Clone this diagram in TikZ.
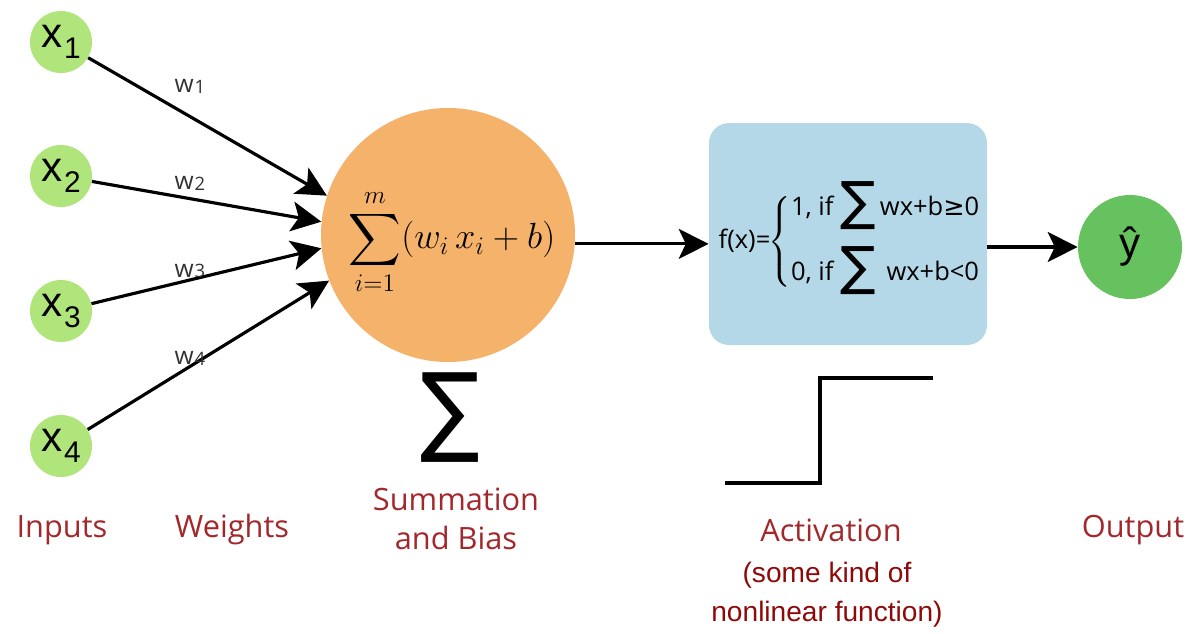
\documentclass[tikz,border=0pt]{standalone}
\usepackage{fontspec}
\usepackage{amsmath}
\setmainfont{Open Sans}
\newfontfamily\arialf{Liberation Sans}
\newfontfamily\symf{DejaVu Sans}
\usetikzlibrary{arrows.meta}
\definecolor{ingreen}{HTML}{B0E57C}
\definecolor{outgreen}{HTML}{66C25E}
\definecolor{sumorange}{HTML}{F5B26B}
\definecolor{actblue}{HTML}{B4D8E7}
\definecolor{labred}{HTML}{A2282B}
\definecolor{notered}{HTML}{8E0A0A}
\newlength{\unitpx}
\setlength{\unitpx}{0.02cm}
\tikzset{
  inputnode/.style={circle, fill=ingreen, minimum size=62\unitpx, inner sep=0pt,
    font=\arialf\fontsize{24}{24}\selectfont},
  wire/.style={line width=1.8pt, -{Stealth[length=17pt,width=17pt,inset=4pt]}},
  weightlbl/.style={font=\fontsize{14}{16}\selectfont, text=black!80},
  caption/.style={font=\fontsize{17.5}{22}\selectfont, text=labred, align=center},
  note/.style={font=\arialf\fontsize{16}{22}\selectfont, text=notered, align=center},
}
\newcommand{\wsub}[1]{w\kern0.5pt\raisebox{-0.5pt}{\fontsize{10.5}{11}\selectfont #1}}
\newcommand{\xsub}[1]{x\kern1pt\raisebox{-6pt}{\fontsize{17}{17}\selectfont #1}}
\newcommand{\boxsig}{\smash{\raisebox{-0.16em}{\symf\fontsize{30}{30}\selectfont ∑}}}
\begin{document}
\begin{tikzpicture}[x=0.02cm, y=-0.02cm]
  \useasboundingbox (0,0) rectangle (1194,633);

  % inputs
  \node[inputnode] (x1) at (61,42)  {\xsub{1}};
  \node[inputnode] (x2) at (61,176) {\xsub{2}};
  \node[inputnode] (x3) at (61,311) {\xsub{3}};
  \node[inputnode] (x4) at (61,446) {\xsub{4}};

  % summation neuron
  \node[circle, fill=sumorange, minimum size=254\unitpx, inner sep=0pt] (sum) at (448,235) {};
  \node (sumtext) at (452,242) {\fontsize{20}{24}\selectfont
    $\displaystyle\sum_{i=1}^{m}(w_i\,x_i+b)$};

  % weighted connections
  \draw[wire] (x1) -- (sum.162);
  \draw[wire] (x2) -- (sum.174);
  \draw[wire] (x3) -- (sum.186);
  \draw[wire] (x4) -- (sum.201);
  \node[weightlbl] (w1) at (190,86)  {\wsub{1}};
  \node[weightlbl] (w2) at (190,183) {\wsub{2}};
  \node[weightlbl] (w3) at (190,271) {\wsub{3}};
  \node[weightlbl] (w4) at (190,358) {\wsub{4}};

  % activation block
  \node[fill=actblue, rounded corners=20\unitpx, minimum width=278\unitpx,
        minimum height=222\unitpx, inner sep=0pt] (act) at (848,234) {};
  \node (acttext) at (850,242) {\fontsize{14.5}{17}\selectfont
    f(x)=\kern-1pt$\left\{\begin{array}{@{}l@{}}
      \text{1, if \boxsig\,wx+b{\symf ≥}0}\\[20pt]
      \text{0, if \boxsig\ \,wx+b<0}
    \end{array}\right.$};

  % output
  \node[circle, fill=outgreen, minimum size=104\unitpx, inner sep=0pt,
        font=\arialf\fontsize{24}{24}\selectfont] (out) at (1130,247) {\^y};

  \draw[wire] (sum.-4) -- (sum.-4 -| act.west);
  \draw[wire] (out.west -| act.east) -- (out.west);

  % symbols below
  \node[xscale=0.9] (sigma) at (450,418) {\symf\fontsize{56}{56}\selectfont ∑};
  \coordinate (s0) at (725,483);
  \coordinate (s1) at (820,483);
  \coordinate (s2) at (820,378);
  \coordinate (s3) at (933,378);
  \draw[line width=1.8pt] (s0) -- (s1) -- (s2) -- (s3);

  % captions
  \node[caption] (cin)  at (62,530)   {Inputs};
  \node[caption] (cw)   at (232,530)  {Weights};
  \node[caption] (csum) at (456,519)  {Summation\\and Bias};
  \node[caption] (cact) at (831,530)  {Activation};
  \node[note]    (cnl)  at (827,595)  {(some kind of\\nonlinear function)};
  \node[caption] (cout) at (1133,530) {Output};
\end{tikzpicture}
\end{document}
